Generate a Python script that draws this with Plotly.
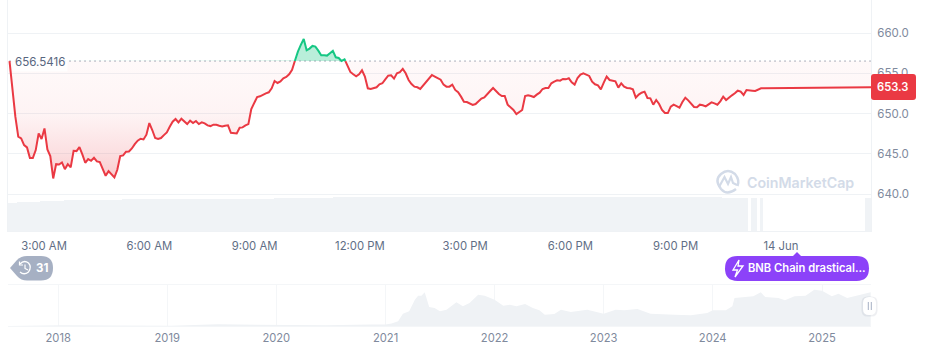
import pandas as pd
import plotly.graph_objects as go

# ---------- data ----------
open_price = 656.5416
last_price = 653.3
price_start, price_regular_end = "2025-06-13 02:01", "2025-06-13 23:31"
prices = [
 656.54,653.15,649.63,647.14,646.93,646.10,645.81,644.48,644.48,645.48,647.55,646.85,648.17,645.56,644.73,641.95,
 643.73,643.69,643.94,643.11,643.73,643.32,645.39,645.35,645.85,644.94,643.90,644.36,644.15,644.52,644.07,643.98,
 643.20,642.28,642.86,642.45,642.07,643.03,644.73,644.81,645.27,645.31,645.68,646.22,646.64,646.89,646.80,647.39,
 648.84,647.97,646.97,646.85,646.97,647.34,647.68,648.38,649.00,649.34,648.92,649.38,649.05,648.71,649.13,648.84,
 649.09,648.71,648.92,648.80,648.55,648.46,648.63,648.63,648.51,648.42,648.51,648.55,647.63,647.59,647.55,648.26,
 648.30,648.55,648.71,650.58,651.29,652.07,652.16,652.37,652.53,652.66,653.15,654.07,653.82,654.02,654.40,654.56,
 654.90,655.44,656.60,657.72,658.55,659.29,657.88,658.09,658.42,658.34,657.84,657.26,657.26,657.22,657.51,657.80,
 657.01,656.93,656.56,656.76,656.06,655.19,654.90,654.65,654.90,655.39,654.61,653.15,653.07,653.15,653.28,653.65,
 653.78,654.27,654.73,654.77,654.36,655.02,655.15,655.56,655.02,654.19,653.69,653.36,653.28,653.07,653.49,653.90,
 654.40,654.81,654.61,654.44,654.23,653.61,653.36,653.36,653.61,652.95,652.66,652.12,651.49,651.45,651.24,651.08,
 651.20,651.58,651.87,652.03,652.37,652.82,653.20,652.78,652.45,652.20,652.20,651.12,650.83,650.46,649.96,650.17,
 650.46,652.20,652.28,652.20,652.07,652.37,652.61,653.07,653.20,653.20,653.78,653.98,654.15,654.11,654.32,654.27,
 654.40,653.90,653.61,654.44,654.85,655.02,654.81,654.69,653.98,653.65,653.53,653.03,653.86,654.61,654.19,654.07,
 654.02,653.24,653.78,653.36,653.20,653.15,653.03,651.99,652.37,652.61,652.74,651.95,651.91,651.12,651.70,651.20,
 650.46,650.08,650.08,650.87,651.12,650.95,650.75,651.45,651.99,651.66,651.29,650.83,650.79,651.12,651.04,650.91,
 651.16,651.41,651.29,651.12,651.54,652.12,651.70,652.03,652.28,652.53,652.86,652.74,652.32,652.95,652.86,652.86,
 652.82,652.99,653.15,653.17,
]
tail_times = ["2025-06-14 00:00", "2025-06-14 01:00", "2025-06-14 02:00", "2025-06-14 02:34"]
tail_prices = [653.19, 653.23, 653.28, 653.30]

volume_levels = [28, 28.7, 30, 31, 32, 33, 33.7, 32.7, 0, 33, 0, 33, 0, 33]
volume_counts = [3, 8, 8, 20, 52, 20, 133, 9, 1, 2, 1, 1, 35, 2]

tick_times = ["2025-06-13 03:00","2025-06-13 06:00","2025-06-13 09:00","2025-06-13 12:00",
              "2025-06-13 15:00","2025-06-13 18:00","2025-06-13 21:00","2025-06-14 00:00"]
tick_labels = ["3:00 AM","6:00 AM","9:00 AM","12:00 PM","3:00 PM","6:00 PM","9:00 PM","14 Jun"]
price_ticks = [640, 645, 650, 655, 660]

history_dates = ["2017-07-15","2018-01-15","2018-06-15","2019-01-15","2019-06-20","2020-01-15","2020-06-15","2020-11-15",
 "2021-01-01","2021-01-21","2021-02-12","2021-02-28","2021-03-21","2021-04-09","2021-04-20","2021-05-01","2021-05-12",
 "2021-05-27","2021-06-14","2021-07-02","2021-07-24","2021-08-26","2021-09-17","2021-10-09","2021-11-07","2021-11-29",
 "2022-01-01","2022-01-30","2022-02-21","2022-03-15","2022-04-13","2022-05-09","2022-05-31","2022-06-18","2022-07-20",
 "2022-08-11","2022-09-13","2022-11-07","2023-01-01","2023-02-10","2023-03-11","2023-04-24","2023-06-07","2023-08-26",
 "2023-10-20","2023-12-14","2024-01-01","2024-02-14","2024-03-07","2024-03-14","2024-04-16","2024-05-16","2024-06-10",
 "2024-06-25","2024-08-08","2024-08-30","2024-10-01","2024-11-07","2024-12-06","2025-01-01","2025-02-03","2025-02-25",
 "2025-03-26","2025-05-08","2025-06-13"]
history_prices = [0.2,15,12,6,33,15,16,28,
 30,50,93,247,293,527,607,607,673,380,360,293,327,473,393,460,627,607,
 527,407,427,393,440,360,313,227,240,327,280,327,247,327,313,340,247,227,
 213,260,313,313,393,560,580,593,673,580,560,513,593,607,727,707,593,647,560,627,673]

# ---------- colours ----------
RED, GREEN, GRID, TXT = "#ea3943", "#16c784", "#eff2f5", "#808a9d"
W, H = 925, 353

# ---------- derived series ----------
reg = pd.date_range(price_start, price_regular_end, periods=len(prices))
times = list(reg) + [pd.Timestamp(t) for t in tail_times]
vals = prices + tail_prices

xs, ys = [], []
for i, (t, v) in enumerate(zip(times, vals)):
    if i:
        t0, v0 = times[i-1], vals[i-1]
        if (v0 - open_price) * (v - open_price) < 0:
            xs.append(t0 + (t - t0) * ((open_price - v0) / (v - v0)))
            ys.append(open_price)
    xs.append(t); ys.append(v)
base = [open_price] * len(xs)
red_clip = [min(v, open_price) for v in ys]
green_clip = [max(v, open_price) for v in ys]
red_line = [v if v <= open_price else None for v in ys]
green_line = [v if v >= open_price else None for v in ys]

vol_vals = []
for lv, c in zip(volume_levels, volume_counts):
    vol_vals += [lv] * c
vol_x = pd.date_range(price_start, periods=len(vol_vals), freq="5min")

fig = go.Figure()
# volume
fig.add_bar(x=vol_x, y=vol_vals, yaxis="y2", width=300000, marker=dict(color="#f0f3f6", line_width=0), hoverinfo="skip")
# fills
fig.add_scatter(x=xs, y=base, mode="lines", line=dict(width=0), hoverinfo="skip")
fig.add_scatter(x=xs, y=red_clip, mode="lines", line=dict(width=0), fill="tonexty", hoverinfo="skip",
    fillgradient=dict(type="vertical", start=641.5, stop=open_price, colorscale=[
        [0, "rgba(234,57,67,0.28)"], [0.24, "rgba(234,57,67,0.16)"], [0.55, "rgba(234,57,67,0.06)"],
        [0.8, "rgba(234,57,67,0.04)"], [1, "rgba(234,57,67,0.03)"]]))
fig.add_scatter(x=xs, y=base, mode="lines", line=dict(width=0), hoverinfo="skip")
fig.add_scatter(x=xs, y=green_clip, mode="lines", line=dict(width=0), fill="tonexty",
                fillcolor="rgba(22,199,132,0.3)", hoverinfo="skip")
# dotted reference
fig.add_scatter(x=[xs[0], xs[-1]], y=[open_price, open_price], mode="lines",
                line=dict(color="#58667e", width=1, dash="1px,4px"), hoverinfo="skip")
# price lines
fig.add_scatter(x=xs, y=red_line, mode="lines", line=dict(color=RED, width=2), hoverinfo="skip")
fig.add_scatter(x=xs, y=green_line, mode="lines", line=dict(color=GREEN, width=2), hoverinfo="skip")
# navigator
fig.add_scatter(x=history_dates, y=history_prices, xaxis="x2", yaxis="y3", mode="lines",
                line=dict(width=0), fill="tozeroy", fillcolor=GRID, hoverinfo="skip")

def P(x, y):
    return f"{x/W:.5f},{1-y/H:.5f}"
def rrect(x0, y0, x1, y1, r):
    return (f"M{P(x0+r,y0)} L{P(x1-r,y0)} Q{P(x1,y0)} {P(x1,y0+r)} L{P(x1,y1-r)} Q{P(x1,y1)} {P(x1-r,y1)} "
            f"L{P(x0+r,y1)} Q{P(x0,y1)} {P(x0,y1-r)} L{P(x0,y0+r)} Q{P(x0,y0)} {P(x0+r,y0)} Z")
def shape(path, fill=None, line=None, lw=0):
    return dict(type="path", xref="paper", yref="paper", path=path, layer="above",
                fillcolor=fill or "rgba(0,0,0,0)", line=dict(color=line or "rgba(0,0,0,0)", width=lw))
def poly(pts, close=False):
    return "M" + " L".join(P(*p) for p in pts) + (" Z" if close else "")

LOGO = "#d3dbe8"
shapes = [
    # current price badge
    shape(rrect(871, 74, 916, 100, 3), RED),
    # history pill
    shape(f"M{P(10,268)} L{P(17,260)} Q{P(21,256)} {P(27,256)} L{P(41,256)} Q{P(53,256)} {P(53,268)} "
          f"Q{P(53,280.5)} {P(41,280.5)} L{P(27,280.5)} Q{P(21,280.5)} {P(17,276)} Z", "#a6b0c3"),
    shape(f"M{P(20,264)} Q{P(24,259.5)} {P(28.5,263)} Q{P(32,267)} {P(28.5,272)} Q{P(24,275.5)} {P(20,272)}", None, "white", 1.3),
    shape(poly([(19.5,261.5),(19.5,265),(23,265)]), None, "white", 1.2),
    shape(poly([(25,264.5),(25,268.5),(28,270)]), None, "white", 1.2),
    # news pill
    shape(f"M{P(793,256)} L{P(797,252)} L{P(801,256)} Z", "#8c42f9"),
    shape(rrect(725, 256, 869, 281, 12.4), "#8c42f9"),
    shape(poly([(739,260),(733,270),(737.5,270),(735,277),(743,266),(738,266)], True), None, "white", 1.3),
    # scroller handle
    shape(rrect(861.5, 296.5, 877.5, 316.5, 6), "rgba(88,102,126,0.10)"),
    shape(rrect(863, 297, 876, 315, 6), "white"),
    shape(poly([(868.3,302),(868.3,310)]), None, "#a6b0c3", 1),
    shape(poly([(871.3,302),(871.3,310)]), None, "#a6b0c3", 1),
    # watermark logo
    shape(f"M{P(736,189)} Q{P(727,196)} {P(721,189)} Q{P(714,180)} {P(721,174)} Q{P(728,168)} {P(735,174)} "
          f"Q{P(740,180)} {P(737.5,186)}", None, LOGO, 2.4),
    shape(poly([(719,187),(724.5,177),(728,184),(731,177),(733,183),(737,185)]), None, LOGO, 2.2),
]

def note(x, y, text, size=12, color=TXT, weight=400, anchor="left", bg=None):
    return dict(xref="paper", yref="paper", x=x/W, y=1-y/H, text=text, showarrow=False, xanchor=anchor, yanchor="middle",
                font=dict(family="Inter", size=size, color=color, weight=weight), bgcolor=bg, borderpad=2)

annotations = [
    note(12, 62.5, f"{open_price:.4f}", 11.6, "#58667e", 400, bg="rgba(255,255,255,0.85)"),
    note(892.5, 87, f"{last_price:.1f}", 11.2, "white", 600, "center"),
    note(33, 268, "31", 11.5, "white", 700),
    note(744.5, 268, "BNB Chain drastical...", 11.2, "white", 600),
    note(743.5, 182.5, "CoinMarketCap", 14.2, LOGO, 600),
]

fig.update_layout(
    width=W, height=H, margin=dict(l=0, r=0, t=0, b=0), paper_bgcolor="white", plot_bgcolor="white",
    showlegend=False, barmode="overlay", bargap=0, font=dict(family="Inter", size=12, color=TXT),
    shapes=shapes, annotations=annotations,
    xaxis=dict(domain=[8/W, 871/W], range=["2025-06-13 01:58:24", "2025-06-14 02:34:00"], anchor="y",
               tickvals=tick_times, ticktext=tick_labels, showgrid=False, ticks="", zeroline=False,
               tickfont=dict(size=11.3, color="#616e85"), ticklabelstandoff=4,
               showline=True, linecolor=GRID, linewidth=1),
    yaxis=dict(domain=[1-231/H, 1], range=[635.42, 664.13], side="right", anchor="x", tickvals=price_ticks,
               tickformat=".1f", gridcolor=GRID, gridwidth=1, zeroline=False, ticks="",
               tickfont=dict(size=11.5, color=TXT), ticklabelstandoff=3,
               showline=True, linecolor=GRID, linewidth=1, mirror=True),
    yaxis2=dict(domain=[1-231/H, 1-195/H], range=[0, 36], overlaying=None, anchor="x", visible=False, fixedrange=True),
    xaxis2=dict(domain=[8/W, 871/W], range=["2017-07-17", "2025-06-14"], anchor="y3", dtick="M12", tick0="2018-01-01",
                tickformat="%Y", gridcolor="#f4f6f8", showgrid=True, ticks="", zeroline=False,
                tickfont=dict(size=11.2, color=TXT), ticklabelstandoff=2,
                showline=True, linecolor="#f4f6f8", linewidth=1, mirror=True),
    yaxis3=dict(domain=[1-326/H, 1-285/H], range=[0, 820], anchor="x2", visible=False),
)

fig.write_html("out.html", config=dict(displayModeBar=False),
               post_script="document.body.style.margin='0';document.documentElement.style.overflow='hidden';")
